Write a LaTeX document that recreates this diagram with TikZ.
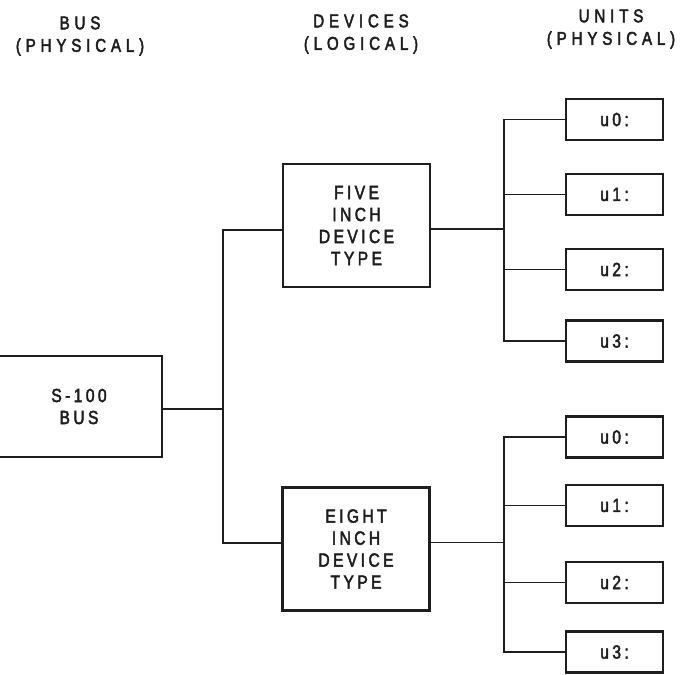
\documentclass[tikz,border=0pt]{standalone}
\usepackage{fontspec}
\newfontfamily\diagfont{Liberation Sans}[FakeStretch=0.82,LetterSpace=18,FakeBold=2.5]
\newfontfamily\headfont{Liberation Sans}[FakeStretch=0.82,LetterSpace=26,FakeBold=2.5]
\usetikzlibrary{positioning,calc}
\definecolor{ink}{HTML}{1E1E1E}
\tikzset{
  box/.style={
    draw=ink, line width=2.8pt, fill=white,
    inner sep=0pt, align=center, text=ink,
    font=\diagfont\fontsize{19}{22}\selectfont
  },
  unitbox/.style={box, minimum width=97pt, minimum height=41pt},
  devbox/.style={box, minimum width=147pt, minimum height=123pt},
  head/.style={align=center, text=ink, inner sep=0pt,
    font=\headfont\fontsize{18.5}{22.5}\selectfont},
  wire/.style={draw=ink, line width=1.6pt}
}
\begin{document}
\begin{tikzpicture}[x=1pt,y=-1pt]
    \useasboundingbox (0,0) rectangle (684,674);

    % column headings
    \node[head] (bushead) at (80,36) {BUS\\(PHYSICAL)};
    \node[head] (devhead) at (361,34) {DEVICES\\(LOGICAL)};
    \node[head] (unithead) at (611,29) {UNITS\\(PHYSICAL)};

    % bus and devices
    \node[box, minimum width=166pt, minimum height=101pt] (bus) at (79,406.5) {S-100\\BUS};
    \node[devbox] (five) at (356.5,225.5) {FIVE\\INCH\\DEVICE\\TYPE};
    \node[devbox] (eight) at (356,549) {EIGHT\\INCH\\DEVICE\\TYPE};

    % units
    \foreach \i/\y in {0/119.5,1/194.5,2/269.5,3/341}
      \node[unitbox] (fu\i) at (614.5,\y) {u\i:};
    \foreach \i/\y in {0/437,1/505.5,2/582.5,3/652}
      \node[unitbox] (eu\i) at (614.5,\y) {u\i:};

    % connectors (the wires meet the boxes a little off centre)
    \coordinate (busout) at ([yshift=-2.5pt]bus.east);
    \coordinate (fivein) at ([yshift=-4.5pt]five.west);
    \coordinate (eightin) at ([yshift=6pt]eight.west);
    \coordinate (busjoin) at ($(223,0)!(busout)!(223,10)$);
    \draw[wire] (busout) -- (busjoin);
    \draw[wire] (fivein) -| (busjoin) |- (eightin);

    \coordinate (fiveout) at ([yshift=-3.5pt]five.east);
    \coordinate (eightout) at ([yshift=6.5pt]eight.east);
    \coordinate (fivejoin) at ($(504,0)!(fiveout)!(504,10)$);
    \coordinate (eightjoin) at ($(504,0)!(eightout)!(504,10)$);
    \draw[wire] (fiveout) -- (fivejoin);
    \draw[wire] (eightout) -- (eightjoin);
    \foreach \i in {0,...,3} {
      \draw[wire] (fu\i.west) -| (fivejoin);
      \draw[wire] (eu\i.west) -| (eightjoin);
    }
\end{tikzpicture}
\end{document}
